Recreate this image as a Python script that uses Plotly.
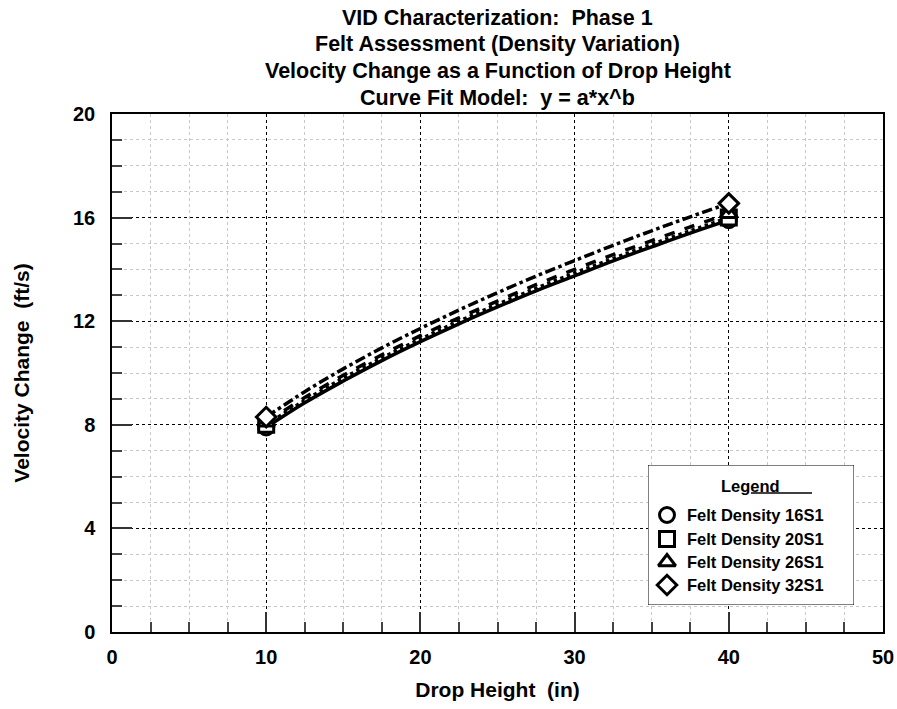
import plotly.graph_objects as go

# ---------------- data ----------------
series_names = ["Felt Density 16S1", "Felt Density 20S1", "Felt Density 26S1", "Felt Density 32S1"]
symbols = ["circle", "square", "triangle-up", "diamond"]
dashes = ["solid", "dot", "dash", "dashdot"]

# measured points (drop height, velocity change)
drop_height = [10, 40]
vel_16S1 = [7.90, 15.90]
vel_20S1 = [8.00, 16.00]
vel_26S1 = [8.10, 16.15]
vel_32S1 = [8.30, 16.55]

# fitted curves y = a*x^b
fit_x = [10, 12.5, 15, 17.5, 20, 22.5, 25, 27.5, 30, 32.5, 35, 37.5, 40]
fit_16S1 = [7.90, 8.85, 9.69, 10.48, 11.21, 11.90, 12.55, 13.17, 13.75, 14.33, 14.87, 15.40, 15.90]
fit_20S1 = [8.00, 8.94, 9.80, 10.58, 11.31, 12.00, 12.65, 13.27, 13.86, 14.42, 14.97, 15.49, 16.00]
fit_26S1 = [8.10, 9.05, 9.91, 10.70, 11.44, 12.13, 12.78, 13.41, 14.00, 14.57, 15.11, 15.64, 16.15]
fit_32S1 = [8.30, 9.28, 10.16, 10.97, 11.72, 12.43, 13.10, 13.74, 14.34, 14.93, 15.49, 16.03, 16.55]

x_ticks = [0, 10, 20, 30, 40, 50]
y_ticks = [0, 4, 8, 12, 16, 20]

title_lines = [
    "VID Characterization:  Phase 1",
    "Felt Assessment (Density Variation)",
    "Velocity Change as a Function of Drop Height",
    "Curve Fit Model:  y = a*x^b",
]

measured = [vel_16S1, vel_20S1, vel_26S1, vel_32S1]
fits = [fit_16S1, fit_20S1, fit_26S1, fit_32S1]

FONT = "Arial, 'Liberation Sans', Helvetica, sans-serif"

fig = go.Figure()

for name, fy, dash in zip(series_names, fits, dashes):
    fig.add_trace(go.Scatter(
        x=fit_x, y=fy, mode="lines", name=name + " fit", showlegend=False,
        line=dict(color="black", width=3.5, dash=dash, shape="spline"),
        hoverinfo="skip",
    ))

for name, my, sym in zip(series_names, measured, symbols):
    fig.add_trace(go.Scatter(
        x=drop_height, y=my, mode="markers", name=name, showlegend=False,
        marker=dict(symbol=sym, size=15, color="white",
                    line=dict(color="black", width=3)),
    ))

# ---- custom legend drawn on an overlay axis (box-local coordinates) ----
leg_rows_y = [90, 66, 43, 20]
fig.add_trace(go.Scatter(
    x=[19] * 4, y=leg_rows_y, mode="markers", xaxis="x2", yaxis="y2",
    showlegend=False, hoverinfo="skip",
    marker=dict(symbol=symbols, size=15, color="white",
                line=dict(color="black", width=3)),
))
for name, yy in zip(series_names, leg_rows_y):
    fig.add_annotation(x=37, y=yy, xref="x2", yref="y2", text="<b>%s</b>" % name,
                       showarrow=False, xanchor="left", yanchor="middle",
                       font=dict(family=FONT, size=16.5, color="black"))
fig.add_annotation(x=71, y=119, xref="x2", yref="y2", text="<b>Legend</b>",
                   showarrow=False, xanchor="left", yanchor="middle",
                   font=dict(family=FONT, size=16.5, color="black"))
fig.add_shape(type="line", xref="x2", yref="y2", x0=103, x1=164, y0=112, y1=112,
              line=dict(color="black", width=1.5))
fig.add_shape(type="rect", xref="x2", yref="y2", x0=0, x1=206, y0=0, y1=140,
              line=dict(color="black", width=1), fillcolor="white", layer="below")

# ---- title (four centred lines above the plot) ----
title_centres_px = [18, 44, 71, 98]   # distance of each line's centre from figure top
for line, cy in zip(title_lines, title_centres_px):
    fig.add_annotation(text="<b>%s</b>" % line,
                       xref="paper", yref="paper", x=0.5, y=1 + (114 - cy) / 518,
                       xanchor="center", yanchor="middle", showarrow=False,
                       borderpad=0,
                       font=dict(family=FONT, size=21.5, color="black"))

common_axis = dict(
    showline=True, linecolor="black", linewidth=1.5, mirror=True,
    ticks="inside", ticklen=20, tickwidth=1.5, tickcolor="#333",
    showgrid=True, gridcolor="black", gridwidth=1, griddash="dot",
    zeroline=False, automargin=False,
    tickfont=dict(family=FONT, size=20, color="black"),
)

fig.update_layout(
    width=897, height=709,
    margin=dict(l=112, r=14, t=114, b=77),
    paper_bgcolor="white", plot_bgcolor="white",
    font=dict(family=FONT, color="black"),
    showlegend=False,
    xaxis=dict(
        range=[0, 50], tickvals=x_ticks, ticktext=["<b>%d</b>" % v for v in x_ticks],
        title=dict(text="<b>Drop Height  (in)</b>", font=dict(family=FONT, size=21), standoff=16),
        minor=dict(dtick=2.5, ticks="inside", ticklen=10, tickcolor="#444", tickwidth=1.5,
                   showgrid=True, gridcolor="#c8c8c8", griddash="dot", gridwidth=1),
        ticklabelstandoff=6,
        **common_axis,
    ),
    yaxis=dict(
        range=[0, 20], tickvals=y_ticks, ticktext=["<b>%d</b>" % v for v in y_ticks],
        title=dict(text="<b>Velocity Change  (ft/s)</b>", font=dict(family=FONT, size=21), standoff=38),
        minor=dict(dtick=1, ticks="inside", ticklen=10, tickcolor="#444", tickwidth=1.5,
                   showgrid=True, gridcolor="#c8c8c8", griddash="dot", gridwidth=1),
        ticklabelstandoff=11,
        **common_axis,
    ),
    xaxis2=dict(domain=[(648 - 112) / 771, (854 - 112) / 771], range=[0, 206],
                anchor="y2", visible=False, fixedrange=True),
    yaxis2=dict(domain=[(632 - 605) / 518, (632 - 465) / 518], range=[0, 140],
                anchor="x2", visible=False, fixedrange=True),
)

fig.write_html("out.html", config={"displayModeBar": False},
               post_script="document.body.style.margin='0';")
